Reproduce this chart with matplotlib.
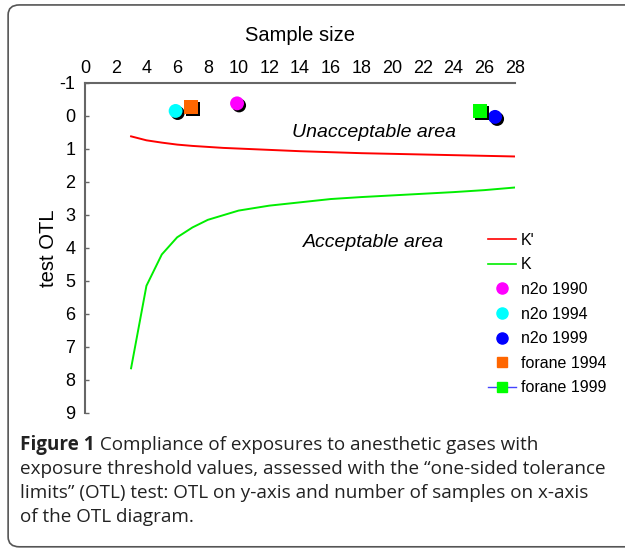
import matplotlib
matplotlib.use("Agg")
import matplotlib.pyplot as plt
import matplotlib.patheffects as pe
from matplotlib.patches import FancyBboxPatch
from matplotlib.lines import Line2D
from matplotlib.text import Annotation

plt.rcParams['font.family'] = ['Liberation Sans', 'DejaVu Sans']
plt.rcParams['axes.unicode_minus'] = False

# K' and K curves (sample size vs OTL)
k_prime_x = [3, 4, 5, 6, 7, 8, 9, 10, 12, 14, 16, 18, 20, 22, 24, 26, 28]
k_prime_y = [0.62, 0.74, 0.81, 0.87, 0.91, 0.94, 0.97, 0.99, 1.03, 1.07, 1.10, 1.13, 1.15, 1.17, 1.19, 1.21, 1.23]
k_x = [3, 4, 5, 6, 7, 8, 10, 12, 14, 16, 18, 20, 22, 24, 26, 28]
k_y = [7.65, 5.15, 4.2, 3.68, 3.38, 3.15, 2.87, 2.72, 2.62, 2.52, 2.46, 2.41, 2.36, 2.31, 2.25, 2.17]

# observed exposures
n2o_1990 = (9.9, -0.38)
n2o_1994 = (5.9, -0.15)
n2o_1999 = (26.7, 0.03)
forane_1994 = (6.9, -0.28)
forane_1999 = (25.7, -0.15)

fig = plt.figure(figsize=(6.25, 5.49), dpi=100)

# rounded frame around figure + caption
frame = FancyBboxPatch((0.013, 0.004), 1.1, 0.987, boxstyle="round,pad=0,rounding_size=0.018",
                       transform=fig.transFigure, facecolor='white', edgecolor='#555555',
                       linewidth=1.2, clip_on=False, zorder=-10)
fig.patches.append(frame)

ax = fig.add_axes([0.136, 0.248, 0.688, 0.601])
ax.set_facecolor('none')

ax.plot(k_prime_x, k_prime_y, color='red', linewidth=1.4)
ax.plot(k_x, k_y, color='#00ee00', linewidth=1.4)

shadow = [pe.SimplePatchShadow(offset=(1.5, -1.5), shadow_rgbFace='black', alpha=1.0), pe.Normal()]
pts = [
    (n2o_1990, 'o', '#ff00ff'),
    (n2o_1994, 'o', '#00ffff'),
    (n2o_1999, 'o', '#0000ff'),
    (forane_1994, 's', '#ff6600'),
    (forane_1999, 's', '#00ff00'),
]
for (px, py), m, c in pts:
    ax.plot([px], [py], marker=m, markersize=10, color=c, linestyle='none',
            markeredgewidth=0, path_effects=shadow, clip_on=False)

ax.set_xlim(0, 28)
ax.set_ylim(9, -1)
ax.set_xticks(range(0, 29, 2))
ax.set_yticks(range(-1, 10))
ax.xaxis.tick_top()
ax.xaxis.set_label_position('top')
ax.tick_params(axis='x', length=0, labelsize=13, pad=4)
ax.tick_params(axis='y', direction='in', length=3, width=1, color='#666666', labelsize=13, pad=7)
for s in ['right', 'bottom']:
    ax.spines[s].set_visible(False)
for s in ['left', 'top']:
    ax.spines[s].set_color('#666666')
    ax.spines[s].set_linewidth(1.5)

ax.set_xlabel('Sample size', fontsize=14.5, labelpad=14)
ax.set_ylabel('test OTL', fontsize=14.5, labelpad=1)

ax.text(18.8, 0.5, 'Unacceptable area', fontsize=14, style='italic', ha='center', va='center')
ax.text(18.8, 3.85, 'Acceptable area', fontsize=14, style='italic', ha='center', va='center')

handles = [
    Line2D([], [], color='red', linewidth=1.2),
    Line2D([], [], color='#00ee00', linewidth=1.2),
    Line2D([], [], marker='o', color='#ff00ff', linestyle='none', markersize=8),
    Line2D([], [], marker='o', color='#00ffff', linestyle='none', markersize=8),
    Line2D([], [], marker='o', color='#0000ff', linestyle='none', markersize=8),
    Line2D([], [], marker='s', color='#ff6600', linestyle='none', markersize=7),
    Line2D([], [], marker='s', color='#4444ff', markerfacecolor='#00ff00', markeredgecolor='#00ff00',
           linewidth=1, markersize=7),
]
labels = ["K'", 'K', 'n2o 1990', 'n2o 1994', 'n2o 1999', 'forane 1994', 'forane 1999']
fig.legend(handles, labels, loc='upper left', bbox_to_anchor=(0.757, 0.602), frameon=False,
           fontsize=11.5, handlelength=1.8, handletextpad=0.3, labelspacing=0.6)

# caption
cap_size = 13.6
cap_font = 'Open Sans'
t0 = fig.text(0.032, 1 - 445 / 549, 'Figure 1', fontsize=cap_size, fontweight='bold',
              family=cap_font, va='center', color='#222222')
fig.add_artist(Annotation(' Compliance of exposures to anesthetic gases with',
                          xy=(1, 0.5), xycoords=t0, fontsize=cap_size,
                          family=cap_font, va='center', color='#222222',
                          annotation_clip=False))
lines = [
    'exposure threshold values, assessed with the \u201cone-sided tolerance',
    'limits\u201d (OTL) test: OTL on y-axis and number of samples on x-axis',
    'of the OTL diagram.',
]
for i, ln in enumerate(lines):
    fig.text(0.032, 1 - (469 + 24 * i) / 549, ln, fontsize=cap_size, family=cap_font,
             va='center', color='#222222')

fig.savefig('out.png', dpi=100)
